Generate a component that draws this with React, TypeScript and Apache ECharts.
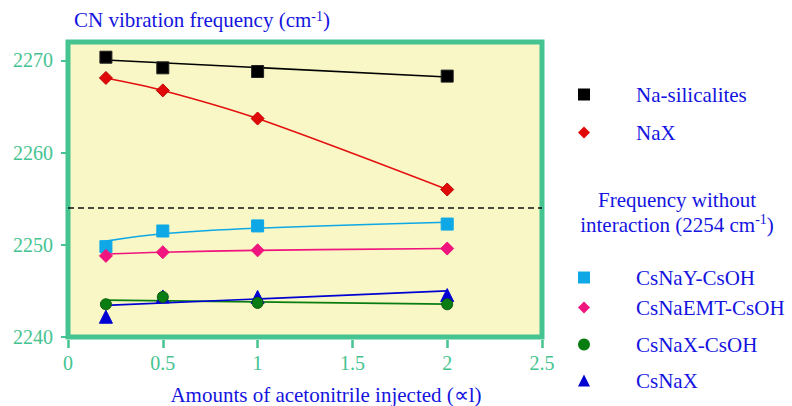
import React, { useEffect, useRef } from "react";
import * as echarts from "echarts";

// Injected amount of acetonitrile (x) for every measurement
const xValues = [0.2, 0.5, 1, 2];
const xEnds = [0.2, 2];

// Measured CN stretching frequencies (cm-1)
const naSilicalites = [2270.35, 2269.2, 2268.8, 2268.3];
const naX = [2268.1, 2266.75, 2263.7, 2256.0];
const csNaYCsOH = [2249.8, 2251.5, 2252.05, 2252.25];
const csNaEMTCsOH = [2248.8, 2249.2, 2249.4, 2249.6];
const csNaXCsOH = [2243.55, 2244.35, 2243.7, 2243.55];
const csNaX = [2242.2, 2244.4, 2244.35, 2244.55];

// Trend lines
const naSilicalitesFit = [2270.05, 2268.2]; // at xEnds
const csNaYCsOHFit = [2250.4, 2251.2, 2251.8, 2252.45]; // at xValues
const csNaEMTCsOHFit = [2249.0, 2249.2, 2249.4, 2249.6]; // at xValues
const csNaXCsOHFit = [2244.0, 2243.57]; // at xEnds
const csNaXFit = [2243.43, 2245.0]; // at xEnds

// Frequency of free acetonitrile
const freeFrequency = 2254;

// Axes
const yTicks = [2240, 2250, 2260, 2270];
const xTicks = [0, 0.5, 1, 1.5, 2, 2.5];

const SERIF = "'Liberation Serif', 'Times New Roman', serif";
const TEXT_BLUE = "#1414e0";
const AXIS_GREEN = "#45c390";

const pairs = (xs: number[], ys: number[]) => xs.map((x, i) => [x, ys[i]]);

const markerSeries = [
  { name: "Na-silicalites", values: naSilicalites, color: "#000000", border: "#222222", symbol: "rect", size: 12 },
  { name: "NaX", values: naX, color: "#e00a0a", border: "#c00000", symbol: "diamond", size: 13 },
  { name: "CsNaY-CsOH", values: csNaYCsOH, color: "#0ea8e6", border: "#0ea8e6", symbol: "rect", size: 12 },
  { name: "CsNaEMT-CsOH", values: csNaEMTCsOH, color: "#f0147e", border: "#f0147e", symbol: "diamond", size: 13 },
  { name: "CsNaX", values: csNaX, color: "#0000d2", border: "#0000d2", symbol: "triangle", size: 13 },
  { name: "CsNaX-CsOH", values: csNaXCsOH, color: "#0a7d12", border: "#0b5a0e", symbol: "circle", size: 11 },
];

const fitSeries = [
  { name: "Na-silicalites trend", xs: xEnds, values: naSilicalitesFit, color: "#000000", smooth: false },
  { name: "NaX trend", xs: xValues, values: naX, color: "#e41010", smooth: 0.3 },
  { name: "CsNaY-CsOH trend", xs: xValues, values: csNaYCsOHFit, color: "#0ea8e6", smooth: 0.4 },
  { name: "CsNaEMT-CsOH trend", xs: xValues, values: csNaEMTCsOHFit, color: "#f0147e", smooth: 0.4 },
  { name: "CsNaX-CsOH trend", xs: xEnds, values: csNaXCsOHFit, color: "#0a7d12", smooth: false },
  { name: "CsNaX trend", xs: xEnds, values: csNaXFit, color: "#0000d2", smooth: false },
];

// Legend rows: vertical centre of each entry
const legendRows = [
  { name: "Na-silicalites", icon: "rect", cy: 95 },
  { name: "NaX", icon: "diamond", cy: 133 },
  { name: "CsNaY-CsOH", icon: "rect", cy: 278 },
  { name: "CsNaEMT-CsOH", icon: "diamond", cy: 308 },
  { name: "CsNaX-CsOH", icon: "circle", cy: 345 },
  { name: "CsNaX", icon: "triangle", cy: 381 },
];

const supStyle = {
  fontSize: 14,
  fontFamily: SERIF,
  color: TEXT_BLUE,
  verticalAlign: "top" as const,
  lineHeight: 14,
};

export default function App() {
  const ref = useRef<HTMLDivElement>(null);

  useEffect(() => {
    if (!ref.current) return;
    const chart = echarts.init(ref.current, undefined, { renderer: "svg" });

    const option: any = {
      animation: false,
      backgroundColor: "#ffffff",
      title: {
        text: "CN vibration frequency (cm{sup|-1})",
        left: 74,
        top: 9,
        padding: 0,
        textStyle: {
          fontFamily: SERIF,
          fontSize: 21,
          fontWeight: "normal",
          color: TEXT_BLUE,
          rich: { sup: supStyle },
        },
      },
      grid: {
        left: 68,
        right: 250,
        top: 42,
        bottom: 69,
        show: true,
        backgroundColor: "#f8f7c5",
        borderColor: AXIS_GREEN,
        borderWidth: 5,
        containLabel: false,
        outerBoundsMode: "none",
      },
      legend: legendRows.map((r) => {
        const s = markerSeries.find((m) => m.name === r.name)!;
        return {
          left: 578,
          top: r.cy - 11,
          padding: 0,
          itemWidth: 12,
          itemHeight: 12,
          selectedMode: false,
          data: [{ name: r.name, icon: r.icon }],
          itemStyle: { color: s.color, borderWidth: 0 },
          textStyle: {
            fontFamily: SERIF,
            fontSize: 21,
            color: TEXT_BLUE,
            padding: [0, 0, 0, 41],
          },
        };
      }),
      xAxis: {
        type: "value",
        min: 0,
        max: 2.5,
        interval: 0.5,
        offset: 3,
        axisLine: { show: false },
        splitLine: { show: false },
        axisTick: {
          show: true,
          length: 8,
          customValues: xTicks,
          lineStyle: { color: AXIS_GREEN, width: 2.5 },
        },
        axisLabel: {
          customValues: xTicks,
          margin: 13,
          fontFamily: SERIF,
          fontSize: 20,
          color: AXIS_GREEN,
          formatter: (v: number) => String(v),
        },
        name: "Amounts of acetonitrile injected (\u221Dl)",
        nameLocation: "middle",
        nameGap: 44,
        nameTextStyle: {
          fontFamily: SERIF,
          fontSize: 21,
          color: TEXT_BLUE,
          padding: [0, 0, 0, 42],
        },
      },
      yAxis: {
        type: "value",
        min: 2240,
        max: 2272,
        interval: 10,
        offset: 6,
        axisLine: { show: false },
        splitLine: { show: false },
        axisTick: {
          show: true,
          length: 7,
          customValues: yTicks,
          lineStyle: { color: AXIS_GREEN, width: 2 },
        },
        axisLabel: {
          customValues: yTicks,
          margin: 9,
          fontFamily: SERIF,
          fontSize: 20,
          color: AXIS_GREEN,
          formatter: (v: number) => String(v),
        },
      },
      graphic: [
        {
          type: "text",
          x: 677,
          y: 212,
          silent: true,
          style: {
            text: "Frequency without\ninteraction (2254 cm{sup|-1})",
            align: "center",
            verticalAlign: "middle",
            fontFamily: SERIF,
            fontSize: 21,
            lineHeight: 25,
            fill: TEXT_BLUE,
            rich: { sup: { ...supStyle, fill: TEXT_BLUE } },
          },
        },
      ],
      series: [
        ...fitSeries.map((f, i) => ({
          name: f.name,
          type: "line",
          data: pairs(f.xs, f.values),
          smooth: f.smooth,
          showSymbol: false,
          symbol: "none",
          silent: true,
          z: 2,
          lineStyle: { color: f.color, width: 1.6 },
          ...(i === 0
            ? {
                markLine: {
                  silent: true,
                  symbol: ["none", "none"],
                  label: { show: false },
                  lineStyle: { color: "#111111", type: [6, 4], width: 1.5 },
                  data: [{ yAxis: freeFrequency }],
                },
              }
            : {}),
        })),
        ...markerSeries.map((m, i) => ({
          name: m.name,
          type: "scatter",
          data: pairs(xValues, m.values),
          symbol: m.symbol,
          symbolSize: m.size,
          z: 3 + i,
          itemStyle: {
            color: m.color,
            borderColor: m.border,
            borderWidth: 1,
            opacity: 1,
          },
        })),
      ],
    };

    chart.setOption(option);
    return () => chart.dispose();
  }, []);

  return (
    <div
      ref={ref}
      style={{ position: "absolute", left: 0, top: 0, width: 792, height: 406 }}
    />
  );
}
